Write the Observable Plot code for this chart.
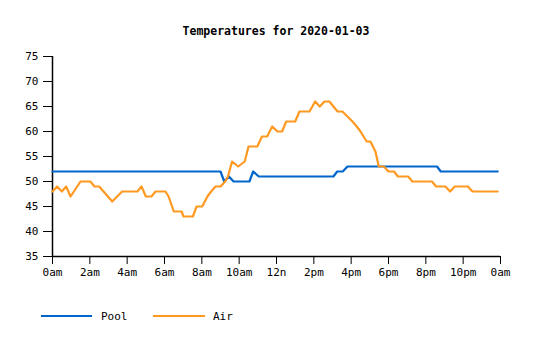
<!DOCTYPE html>
<html>
<head>
<meta charset="utf-8">
<script src="https://cdn.jsdelivr.net/npm/d3@7"></script>
<script src="https://cdn.jsdelivr.net/npm/@observablehq/plot@0.6"></script>
<style>
  html, body { margin: 0; padding: 0; background: #fff; }
  #wrap { position: relative; width: 535px; height: 340px; font-family: "DejaVu Sans Mono", monospace; color: #000; }
  #title { position: absolute; left: 52px; width: 448px; top: 23px; text-align: center; font-weight: bold; font-size: 11.5px; line-height: 16px; }
  #chart { position: absolute; left: 0; top: 0; }
  .lg-line { position: absolute; height: 2px; }
  .lg-text { position: absolute; font-size: 11px; line-height: 14px; }
</style>
</head>
<body>
<div id="wrap">
  <div id="chart"></div>
  <div id="title">Temperatures for 2020-01-03</div>
  <div class="lg-line" style="left:41px; top:315px; width:51px; background:#0066cc"></div>
  <div class="lg-text" style="left:101px; top:310px">Pool</div>
  <div class="lg-line" style="left:153px; top:315px; width:52px; background:#ff9922"></div>
  <div class="lg-text" style="left:213px; top:310px">Air</div>
</div>
<script>
// Tick positions and labels
const xTicks = [0, 2, 4, 6, 8, 10, 12, 14, 16, 18, 20, 22, 24];
const xLabels = ["0am", "2am", "4am", "6am", "8am", "10am", "12n", "2pm", "4pm", "6pm", "8pm", "10pm", "0am"];
const yTicks = [35, 40, 45, 50, 55, 60, 65, 70, 75];

// Pool temperature (hour of day, degrees)
const poolHours = [0, 9.0, 9.2, 9.45, 9.7, 10.55, 10.75, 11.05, 15.05, 15.25, 15.55, 15.8, 20.6, 20.8, 23.85];
const poolTemps = [52, 52, 50, 51, 50, 50, 52, 51, 51, 52, 52, 53, 53, 52, 52];

// Air temperature (hour of day, degrees)
const airHours = [0.0, 0.25, 0.5, 0.73, 0.97, 1.5, 2.03, 2.25, 2.5, 3.2, 3.73, 4.55, 4.77, 5.0, 5.3, 5.52, 6.05, 6.22, 6.5, 6.92, 7.02, 7.52, 7.72, 8.02, 8.3, 8.5, 8.73, 9.0, 9.25, 9.4, 9.62, 9.95, 10.3, 10.5, 10.97, 11.22, 11.5, 11.77, 12.05, 12.3, 12.52, 13.0, 13.23, 13.77, 14.07, 14.32, 14.57, 14.83, 15.27, 15.53, 15.8, 16.07, 16.3, 16.5, 16.83, 17.03, 17.3, 17.48, 17.75, 18.0, 18.3, 18.5, 19.05, 19.28, 20.33, 20.55, 21.05, 21.3, 21.55, 22.25, 22.5, 23.85];
const airTemps = [48, 49, 48, 49, 47, 50, 50, 49, 49, 46, 48, 48, 49, 47, 47, 48, 48, 47, 44, 44, 43, 43, 45, 45, 47, 48, 49, 49, 50, 51, 54, 53, 54, 57, 57, 59, 59, 61, 60, 60, 62, 62, 64, 64, 66, 65, 66, 66, 64, 64, 63, 62, 61, 60, 58, 58, 56, 53, 53, 52, 52, 51, 51, 50, 50, 49, 49, 48, 49, 49, 48, 48];

const pool = poolHours.map((h, i) => ({h, t: poolTemps[i]}));
const air = airHours.map((h, i) => ({h, t: airTemps[i]}));

const chart = Plot.plot({
  width: 535,
  height: 340,
  marginLeft: 52,
  marginRight: 35,
  marginTop: 56,
  marginBottom: 84,
  style: { fontFamily: "DejaVu Sans Mono, monospace", fontSize: "11px", color: "#000", background: "#fff" },
  x: { domain: [0, 24], ticks: xTicks, tickFormat: d => xLabels[xTicks.indexOf(d)], tickSize: 8, tickPadding: 4, label: null },
  y: { domain: [35, 75], ticks: yTicks, tickSize: 9, tickPadding: 5, label: null },
  marks: [
    Plot.ruleX([0], { stroke: "#000", strokeWidth: 1.5 }),
    Plot.ruleY([35], { stroke: "#000", strokeWidth: 1.5 }),
    Plot.line(pool, { x: "h", y: "t", stroke: "#0066cc", strokeWidth: 2.2, curve: "linear" }),
    Plot.line(air, { x: "h", y: "t", stroke: "#ff9922", strokeWidth: 2.2, curve: "linear" })
  ]
});
document.getElementById("chart").appendChild(chart);
</script>
</body>
</html>
